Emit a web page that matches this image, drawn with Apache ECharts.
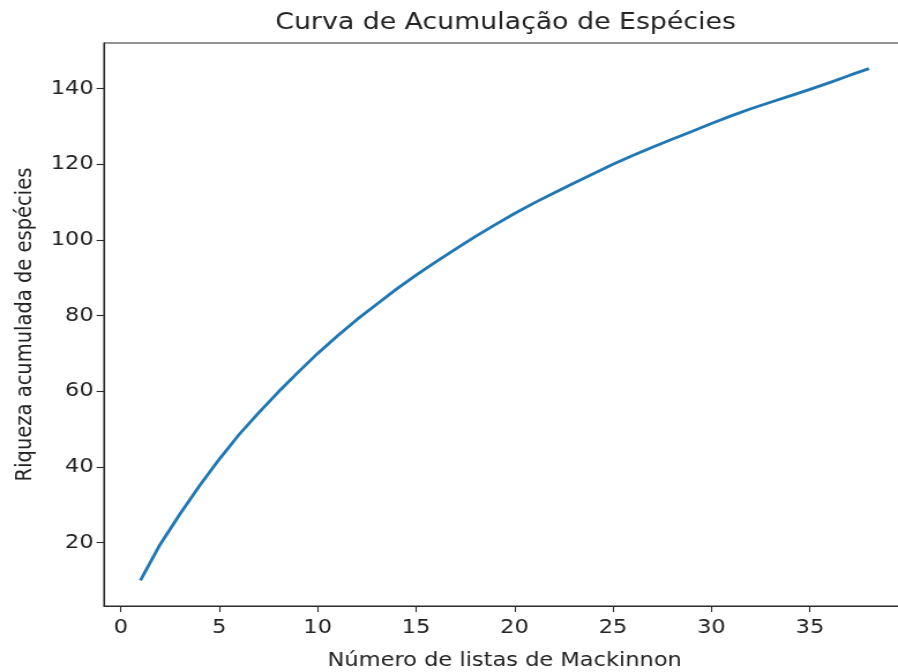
<!DOCTYPE html>
<html>
<head>
<meta charset="utf-8">
<script src="https://cdn.jsdelivr.net/npm/echarts@6/dist/echarts.min.js"></script>
<style>
html,body{margin:0;padding:0;background:#fff;overflow:hidden;width:898px;height:672px}
#c{width:778px;height:672px;transform:scaleX(1.15424);transform-origin:0 0}
</style>
</head>
<body>
<div id="c"></div>
<script>
const listas = [1,2,3,4,5,6,7,8,9,10,11,12,13,14,15,16,17,18,19,20,21,22,23,24,25,26,27,28,29,30,31,32,33,34,35,36,37,38];
const riqueza = [10,19.5,27.5,35,42,48.5,54.3,59.8,65,70,74.6,79,83,87,90.7,94.2,97.6,100.9,104,107,109.8,112.4,115,117.5,120,122.3,124.5,126.6,128.7,130.8,132.8,134.7,136.4,138.1,139.8,141.6,143.5,145.3];
const xTicks = [0,5,10,15,20,25,30,35];
const yTicks = [20,40,60,80,100,120,140];
const titulo = 'Curva de Acumulação de Espécies';
const xNome = 'Número de listas de Mackinnon';
const yNome = 'Riqueza acumulada de espécies';

const font = 'DejaVu Sans';
const txt = '#222';
const axisCol = '#2b2b2b';
const xMin = -0.85, xMax = 39.85, yMin = 3.23, yMax = 152.07;

const chart = echarts.init(document.getElementById('c'), null, {renderer:'canvas', width: 778, height: 672});
chart.setOption({
  animation: false,
  backgroundColor: '#fff',
  title: {
    text: titulo, left: 433, top: 6, textAlign: 'center',
    textStyle: {fontFamily: font, fontSize: 23.2, fontWeight: 'normal', color: txt}
  },
  grid: {left: 90.1, top: 43, right: -6.4, bottom: 66, outerBoundsMode: 'none', containLabel: false,
         show: true, borderColor: axisCol, borderWidth: 1.2, backgroundColor: 'transparent'},
  xAxis: {
    type: 'value', min: xMin, max: xMax,
    name: xNome, nameLocation: 'middle', nameGap: 45,
    nameTextStyle: {fontFamily: font, fontSize: 19.5, color: txt},
    axisLine: {show: true, onZero: false, lineStyle: {color: axisCol, width: 1.2}},
    axisTick: {show: true, length: 6, customValues: xTicks, lineStyle: {color: axisCol, width: 1.1}},
    axisLabel: {customValues: xTicks, fontFamily: font, fontSize: 19.5, color: txt, margin: 12},
    splitLine: {show: false}
  },
  yAxis: {
    type: 'value', min: yMin, max: yMax,
    name: yNome, nameLocation: 'middle', nameGap: 58,
    nameTextStyle: {fontFamily: font, fontSize: 19.5, color: txt},
    axisLine: {show: true, onZero: false, lineStyle: {color: axisCol, width: 1.2}},
    axisTick: {show: true, length: 6.5, customValues: yTicks, lineStyle: {color: axisCol, width: 1.1}},
    axisLabel: {customValues: yTicks, fontFamily: font, fontSize: 19.5, color: txt, margin: 9},
    splitLine: {show: false}
  },
  series: [{
    type: 'line',
    data: listas.map((x, i) => [x, riqueza[i]]),
    showSymbol: false, smooth: false,
    lineStyle: {color: '#1f77b4', width: 2.8},
    itemStyle: {color: '#1f77b4'}
  }]
});
</script>
</body>
</html>
